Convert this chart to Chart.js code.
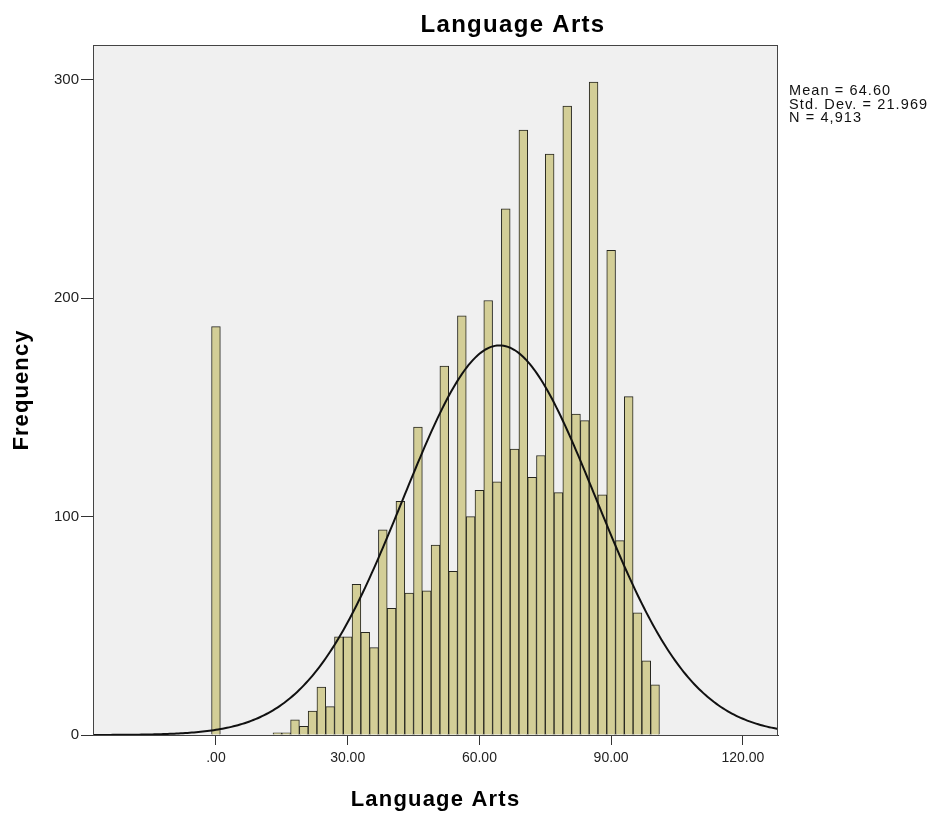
<!DOCTYPE html>
<html>
<head>
<meta charset="utf-8">
<title>Language Arts</title>
<script src="https://cdn.jsdelivr.net/npm/chart.js@4/dist/chart.umd.min.js"></script>
<style>
  html, body { margin: 0; padding: 0; background: #ffffff; }
  #wrap { width: 942px; height: 814px; }
</style>
</head>
<body>
<div id="wrap"><canvas id="hist" width="942" height="814"></canvas></div>
<script>
// Histogram bins (2-point wide, labelled by their centre score) and counts
const binCenters = [0, 14, 16, 18, 20, 22, 24, 26, 28, 30, 32, 34, 36, 38, 40, 42, 44, 46, 48, 50,
  52, 54, 56, 58, 60, 62, 64, 66, 68, 70, 72, 74, 76, 78, 80, 82, 84, 86, 88, 90,
  92, 94, 96, 98, 100];
const frequencies = [187, 1, 1, 7, 4, 11, 22, 13, 45, 45, 69, 47, 40, 94, 58, 107, 65, 141, 66, 87,
  169, 75, 192, 100, 112, 199, 116, 241, 131, 277, 118, 128, 266, 111, 288, 147, 144, 299, 110, 222,
  89, 155, 56, 34, 23];
const binWidth = 2;

// Summary statistics shown beside the plot, used for the normal curve
const meanScore = 64.60;
const stdDevScore = 21.969;
const caseCount = 4913;
const statLines = ['Mean = 64.60', 'Std. Dev. = 21.969', 'N = 4,913'];

// Titles
const chartTitle = 'Language Arts';
const xAxisTitle = 'Language Arts';
const yAxisTitle = 'Frequency';

// Axis ticks
const xTickValues = [0, 30, 60, 90, 120];
const yTickValues = [0, 100, 200, 300];
const xRange = [-28, 128];
const yRange = [0, 316];

const FONT = '"Liberation Sans", Arial, Helvetica, sans-serif';

// Fitted normal curve scaled to counts per bin
const curvePoints = [];
for (let x = xRange[0]; x <= xRange[1] + 1e-9; x += 0.5) {
  const z = (x - meanScore) / stdDevScore;
  const y = caseCount * binWidth * Math.exp(-0.5 * z * z) / (stdDevScore * Math.sqrt(2 * Math.PI));
  curvePoints.push({ x: x, y: y });
}

// Plot background, frame, titles and the statistics block
const plotDecor = {
  id: 'plotDecor',
  beforeDraw(chart) {
    const { ctx, chartArea: a } = chart;
    ctx.save();
    ctx.fillStyle = '#f0f0f0';
    ctx.fillRect(a.left, a.top, a.right - a.left, a.bottom - a.top);
    ctx.restore();
  },
  afterDraw(chart) {
    const { ctx, chartArea: a } = chart;
    ctx.save();
    ctx.strokeStyle = '#444444';
    ctx.lineWidth = 1;
    ctx.strokeRect(a.left + 0.5, a.top + 0.5, a.right - a.left - 1, a.bottom - a.top);

    ctx.fillStyle = '#000000';
    ctx.textAlign = 'center';
    ctx.textBaseline = 'middle';

    ctx.font = 'bold 24px ' + FONT;
    ctx.letterSpacing = '1.3px';
    ctx.fillText(chartTitle, 513, 25);

    ctx.font = 'bold 22px ' + FONT;
    ctx.letterSpacing = '1.2px';
    ctx.fillText(xAxisTitle, (a.left + a.right) / 2, 800);

    ctx.save();
    ctx.translate(22, (a.top + a.bottom) / 2);
    ctx.rotate(-Math.PI / 2);
    ctx.letterSpacing = '1.1px';
    ctx.fillText(yAxisTitle, 0, 0);
    ctx.restore();

    ctx.font = '14.5px ' + FONT;
    ctx.letterSpacing = '1.1px';
    ctx.textAlign = 'left';
    ctx.fillStyle = '#111111';
    statLines.forEach((t, i) => ctx.fillText(t, 789, 91 + i * 13.5));
    ctx.restore();
  }
};

new Chart(document.getElementById('hist'), {
  type: 'bar',
  data: {
    datasets: [
      {
        type: 'line',
        label: 'Normal',
        data: curvePoints,
        borderColor: '#111111',
        borderWidth: 2,
        pointRadius: 0,
        fill: false,
        tension: 0,
        order: 0
      },
      {
        type: 'bar',
        label: 'Frequency',
        data: binCenters.map((x, i) => ({ x: x, y: frequencies[i] })),
        backgroundColor: '#d3ce97',
        borderColor: '#26261f',
        borderWidth: 1,
        barPercentage: 1,
        categoryPercentage: 1,
        order: 1
      }
    ]
  },
  options: {
    responsive: false,
    animation: false,
    devicePixelRatio: 1,
    layout: { padding: { top: 45, right: 164, bottom: 0, left: 0 } },
    plugins: {
      legend: { display: false },
      tooltip: { enabled: false },
      title: { display: false }
    },
    scales: {
      x: {
        type: 'linear',
        min: xRange[0],
        max: xRange[1],
        offset: false,
        afterFit: (s) => { s.height = 79; },
        afterBuildTicks: (s) => { s.ticks = xTickValues.map(v => ({ value: v })); },
        grid: { display: true, offset: false, drawOnChartArea: false, drawTicks: true, tickLength: 10, color: '#333333' },
        border: { display: true, color: '#333333', width: 1 },
        ticks: {
          padding: 5,
          maxRotation: 0,
          color: '#222222',
          font: { family: FONT, size: 14 },
          callback: (v) => (v === 0 ? '.00' : Number(v).toFixed(2))
        },
        title: { display: false }
      },
      y: {
        type: 'linear',
        min: yRange[0],
        max: yRange[1],
        afterFit: (s) => { s.width = 93; },
        afterBuildTicks: (s) => { s.ticks = yTickValues.map(v => ({ value: v })); },
        grid: { display: true, drawOnChartArea: false, drawTicks: true, tickLength: 12, color: '#333333' },
        border: { display: true, color: '#333333', width: 1 },
        ticks: {
          padding: 2,
          color: '#222222',
          font: { family: FONT, size: 15 }
        },
        title: { display: false }
      }
    }
  },
  plugins: [plotDecor]
});
</script>
</body>
</html>
